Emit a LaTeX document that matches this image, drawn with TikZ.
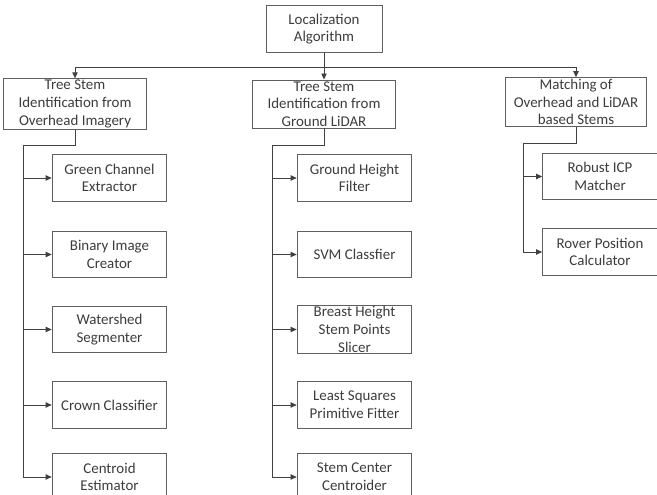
\documentclass[tikz,border=0pt]{standalone}
\usepackage{fontspec}
\setmainfont{Carlito}
\definecolor{boxgray}{RGB}{95,95,95}
\definecolor{textgray}{RGB}{60,60,60}
\usetikzlibrary{arrows.meta,positioning,calc}

\begin{document}
\begin{tikzpicture}[x=0.75pt,y=-0.75pt,
          every node/.style={rectangle,draw=boxgray,line width=0.7pt,align=center,
            text=textgray,font=\fontsize{11.2}{13.3}\selectfont,inner sep=1pt},
          topbox/.style={minimum width=87pt,minimum height=35pt},
          groupbox/.style={minimum width=107pt,minimum height=36pt},
          stepbox/.style={minimum width=86pt,minimum height=35pt},
          link/.style={line width=0.7pt,black!75},
          arrow/.style={link,-{Triangle[length=4.5pt,width=4pt]}}]
          \useasboundingbox (0,0) rectangle (657,495);
          \clip (0,0) rectangle (657,495);
          % top level
          \node[topbox] (loc) at (324,29) {Localization\\Algorithm};
          % second level
          \node[groupbox] (ovh) at (75,104) {Tree Stem\\Identification from\\Overhead Imagery};
          \node[groupbox] (gnd) at (324,104) {Tree Stem\\Identification from\\Ground LiDAR};
          \node[groupbox,minimum width=106pt] (mat) at (576,102) {Matching of\\Overhead and LiDAR\\based Stems};
          % overhead imagery steps
          \node[stepbox] (green) at (109.5,178) {Green Channel\\Extractor};
          \node[stepbox] (binary) at (109.5,254.5) {Binary Image\\Creator};
          \node[stepbox] (water) at (109.5,329.5) {Watershed\\Segmenter};
          \node[stepbox] (crown) at (109.5,405) {Crown Classifier};
          \node[stepbox] (centroid) at (109.5,477) {Centroid\\Estimator};
          % ground lidar steps
          \node[stepbox] (height) at (354.5,178) {Ground Height\\Filter};
          \node[stepbox] (svm) at (354.5,254.5) {SVM Classfier};
          \node[stepbox] (slicer) at (354.5,329.5) {Breast Height\\Stem Points\\Slicer};
          \node[stepbox] (fitter) at (354.5,405) {Least Squares\\Primitive Fitter};
          \node[stepbox] (centroider) at (354.5,477) {Stem Center\\Centroider};
          % matching steps
          \node[stepbox] (icp) at (600,176.5) {Robust ICP\\Matcher};
          \node[stepbox] (rover) at (600,252) {Rover Position\\Calculator};
          % spines
          \coordinate (ospine) at (23,145);
          \coordinate (gspine) at (272,145);
          \coordinate (mspine) at (523,143);
          \draw[arrow] (loc.south) -- ++(0,15) -| (ovh.north);
          \draw[arrow] (loc.south) -- (gnd.north);
          \draw[arrow] (loc.south) -- ++(0,15) -| (mat.north);
          \draw[link] (ovh.south) |- (ospine);
          \draw[link] (gnd.south) |- (gspine);
          \draw[link] (mat.south) |- (mspine);
          \foreach \n in {green,binary,water,crown,centroid}
            \draw[arrow] (ospine) |- (\n.west);
          \foreach \n in {height,svm,slicer,fitter,centroider}
            \draw[arrow] (gspine) |- (\n.west);
          \foreach \n in {icp,rover}
            \draw[arrow] (mspine) |- (\n.west);
        \end{tikzpicture}
\end{document}
